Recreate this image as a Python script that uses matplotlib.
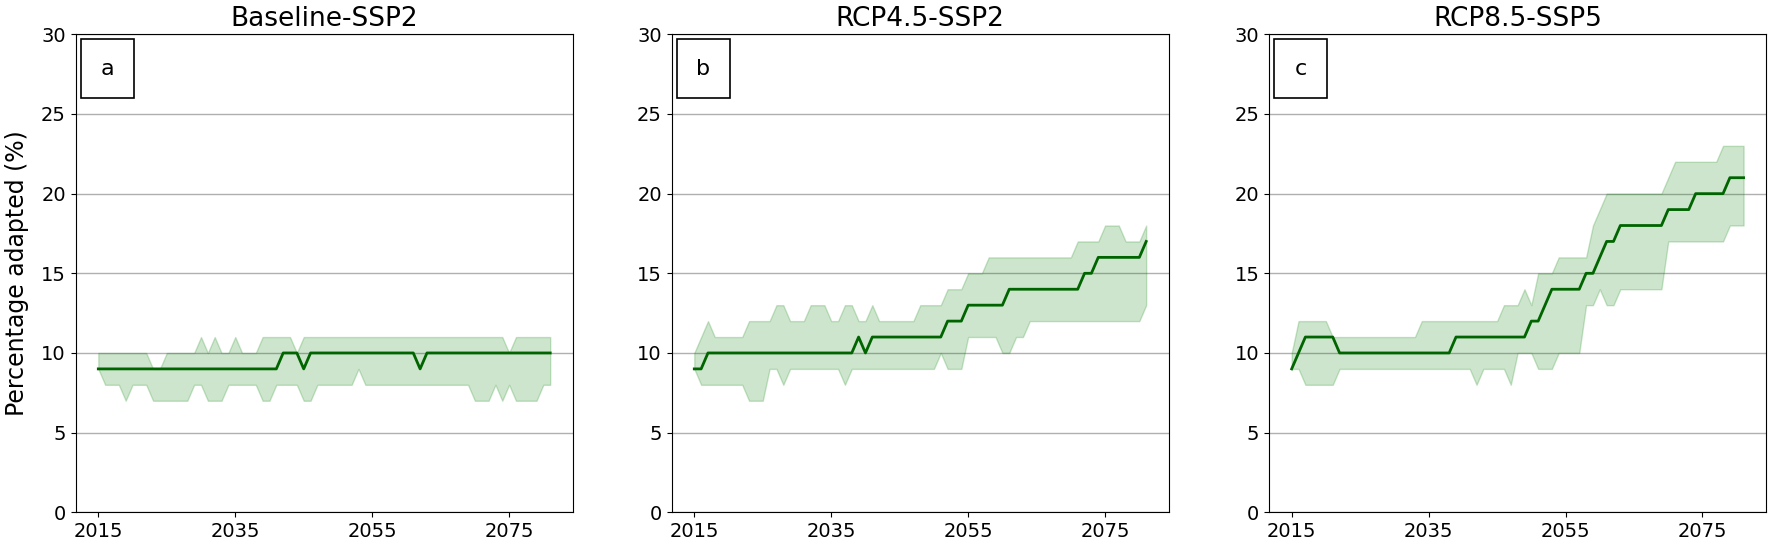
import matplotlib
matplotlib.use('Agg')
import matplotlib.pyplot as plt
from matplotlib.patches import Rectangle

years = list(range(2015, 2082))
titles = ['Baseline-SSP2', 'RCP4.5-SSP2', 'RCP8.5-SSP5']
letters = ['a', 'b', 'c']
xtick_years = [2015, 2035, 2055, 2075]

# Baseline-SSP2
median_a = [9, 9, 9, 9, 9, 9, 9, 9, 9, 9,
            9, 9, 9, 9, 9, 9, 9, 9, 9, 9,
            9, 9, 9, 9, 9, 9, 9, 10, 10, 10,
            9, 10, 10, 10, 10, 10, 10, 10, 10, 10,
            10, 10, 10, 10, 10, 10, 10, 9, 10, 10,
            10, 10, 10, 10, 10, 10, 10, 10, 10, 10,
            10, 10, 10, 10, 10, 10, 10]
upper_a = [10, 10, 10, 10, 10, 10, 10, 10, 9, 9,
           10, 10, 10, 10, 10, 11, 10, 11, 10, 10,
           11, 10, 10, 10, 11, 11, 11, 11, 11, 10,
           11, 11, 11, 11, 11, 11, 11, 11, 11, 11,
           11, 11, 11, 11, 11, 11, 11, 11, 11, 11,
           11, 11, 11, 11, 11, 11, 11, 11, 11, 11,
           10, 11, 11, 11, 11, 11, 11]
lower_a = [9, 8, 8, 8, 7, 8, 8, 8, 7, 7,
           7, 7, 7, 7, 8, 8, 7, 7, 7, 8,
           8, 8, 8, 8, 7, 7, 8, 8, 8, 8,
           7, 7, 8, 8, 8, 8, 8, 8, 9, 8,
           8, 8, 8, 8, 8, 8, 8, 8, 8, 8,
           8, 8, 8, 8, 8, 7, 7, 7, 8, 7,
           8, 7, 7, 7, 7, 8, 8]

# RCP4.5-SSP2
median_b = [9, 9, 10, 10, 10, 10, 10, 10, 10, 10,
            10, 10, 10, 10, 10, 10, 10, 10, 10, 10,
            10, 10, 10, 10, 11, 10, 11, 11, 11, 11,
            11, 11, 11, 11, 11, 11, 11, 12, 12, 12,
            13, 13, 13, 13, 13, 13, 14, 14, 14, 14,
            14, 14, 14, 14, 14, 14, 14, 15, 15, 16,
            16, 16, 16, 16, 16, 16, 17]
upper_b = [10, 11, 12, 11, 11, 11, 11, 11, 12, 12,
           12, 12, 13, 13, 12, 12, 12, 13, 13, 13,
           12, 12, 13, 13, 12, 12, 13, 12, 12, 12,
           12, 12, 12, 13, 13, 13, 13, 14, 14, 14,
           15, 15, 15, 16, 16, 16, 16, 16, 16, 16,
           16, 16, 16, 16, 16, 16, 17, 17, 17, 17,
           18, 18, 18, 17, 17, 17, 18]
lower_b = [9, 8, 8, 8, 8, 8, 8, 8, 7, 7,
           7, 9, 9, 8, 9, 9, 9, 9, 9, 9,
           9, 9, 8, 9, 9, 9, 9, 9, 9, 9,
           9, 9, 9, 9, 9, 9, 10, 9, 9, 9,
           11, 11, 11, 11, 11, 10, 10, 11, 11, 12,
           12, 12, 12, 12, 12, 12, 12, 12, 12, 12,
           12, 12, 12, 12, 12, 12, 13]

# RCP8.5-SSP5
median_c = [9, 10, 11, 11, 11, 11, 11, 10, 10, 10,
            10, 10, 10, 10, 10, 10, 10, 10, 10, 10,
            10, 10, 10, 10, 11, 11, 11, 11, 11, 11,
            11, 11, 11, 11, 11, 12, 12, 13, 14, 14,
            14, 14, 14, 15, 15, 16, 17, 17, 18, 18,
            18, 18, 18, 18, 18, 19, 19, 19, 19, 20,
            20, 20, 20, 20, 21, 21, 21]
upper_c = [10, 12, 12, 12, 12, 12, 11, 11, 11, 11,
           11, 11, 11, 11, 11, 11, 11, 11, 11, 12,
           12, 12, 12, 12, 12, 12, 12, 12, 12, 12,
           12, 13, 13, 13, 14, 13, 15, 15, 15, 16,
           16, 16, 16, 16, 18, 19, 20, 20, 20, 20,
           20, 20, 20, 20, 20, 21, 22, 22, 22, 22,
           22, 22, 22, 23, 23, 23, 23]
lower_c = [9, 9, 8, 8, 8, 8, 8, 9, 9, 9,
           9, 9, 9, 9, 9, 9, 9, 9, 9, 9,
           9, 9, 9, 9, 9, 9, 9, 8, 9, 9,
           9, 9, 8, 10, 10, 10, 9, 9, 9, 10,
           10, 10, 10, 13, 13, 14, 13, 13, 14, 14,
           14, 14, 14, 14, 14, 17, 17, 17, 17, 17,
           17, 17, 17, 17, 18, 18, 18]

medians = [median_a, median_b, median_c]
uppers = [upper_a, upper_b, upper_c]
lowers = [lower_a, lower_b, lower_c]

fig = plt.figure(figsize=(17.69, 5.44), dpi=100)
lefts = [0.0428, 0.3797, 0.7174]
width = 0.2810
bottom = 0.0583
height = 0.8786

for i in range(3):
    ax = fig.add_axes([lefts[i], bottom, width, height])
    ax.fill_between(years, lowers[i], uppers[i], color='green', alpha=0.2)
    ax.plot(years, medians[i], color='darkgreen', linewidth=2)
    ax.set_ylim(0, 30)
    ax.set_yticks([0, 5, 10, 15, 20, 25, 30])
    ax.set_xticks(xtick_years)
    ax.tick_params(labelsize=14)
    ax.grid(axis='y', color='#b0b0b0', linewidth=1)
    ax.set_axisbelow(True)
    ax.set_title(titles[i], fontsize=19, pad=6)
    ax.add_patch(Rectangle((0.0107, 0.8667), 0.1067, 0.1234, transform=ax.transAxes,
                           facecolor='white', edgecolor='black', linewidth=1.2, zorder=5))
    ax.text(0.064, 0.928, letters[i], transform=ax.transAxes, ha='center', va='center',
            fontsize=16, zorder=6)
    if i == 0:
        ax.set_ylabel('Percentage adapted (%)', fontsize=17, labelpad=9)

fig.savefig('out.png', dpi=100)
